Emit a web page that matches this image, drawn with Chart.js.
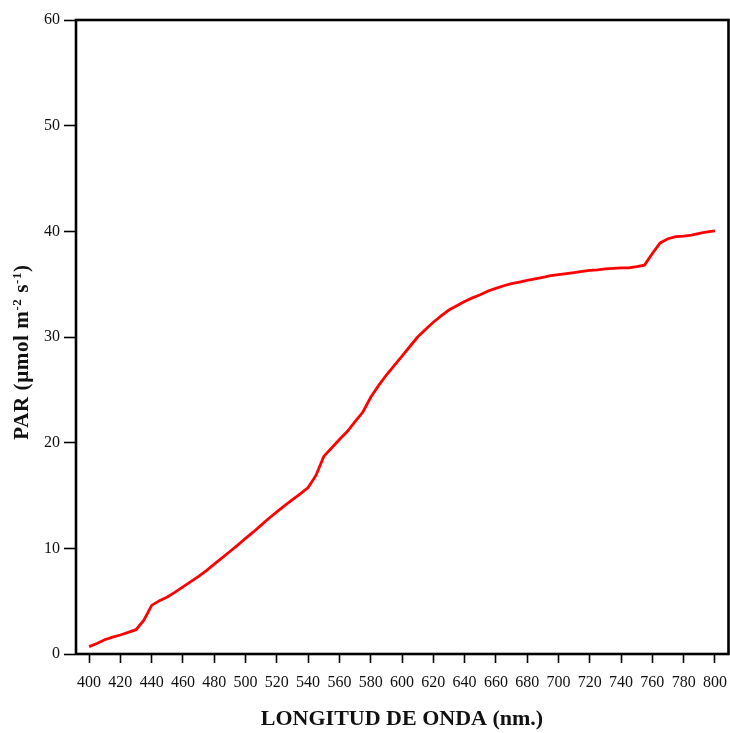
<!DOCTYPE html>
<html>
<head>
<meta charset="utf-8">
<script src="https://cdn.jsdelivr.net/npm/chart.js@4"></script>
<style>
html,body{margin:0;padding:0;background:#fff;}
#wrap{width:730px;height:733px;position:relative;}
</style>
</head>
<body>
<div id="wrap"><canvas id="c" width="730" height="733"></canvas></div>
<script>
const wavelengths = [400,405,410,415,420,425,430,435,440,445,450,455,460,465,470,475,480,485,490,495,
  500,505,510,515,520,525,530,535,540,545,550,555,560,565,570,575,580,585,590,595,
  600,605,610,615,620,625,630,635,640,645,650,655,660,665,670,675,680,685,690,695,
  700,705,710,715,720,725,730,735,740,745,750,755,760,765,770,775,780,785,790,795,800];
const parValues = [0.7,1.0,1.35,1.6,1.8,2.05,2.3,3.2,4.6,5.05,5.4,5.85,6.35,6.85,7.35,7.9,8.5,9.1,9.7,10.3,
  10.95,11.55,12.2,12.85,13.45,14.05,14.6,15.15,15.75,16.9,18.7,19.5,20.3,21.05,22.0,22.9,24.3,25.4,26.4,27.3,
  28.2,29.1,30.0,30.7,31.4,32.0,32.55,32.95,33.35,33.7,34.0,34.35,34.6,34.85,35.05,35.2,35.35,35.5,35.65,35.8,
  35.9,36.0,36.1,36.2,36.3,36.35,36.45,36.5,36.55,36.55,36.65,36.8,37.9,38.9,39.3,39.5,39.55,39.65,39.8,39.95,40.05];
const xTickValues = [400,420,440,460,480,500,520,540,560,580,600,620,640,660,680,700,720,740,760,780,800];
const yTickValues = [0,10,20,30,40,50,60];
const xTitle = 'LONGITUD DE ONDA (nm.)';
// y title pieces: [text, isSuperscript]
const yTitleParts = [['PAR (\u00B5mol m',false],['-2',true],[' s',false],['-1',true],[')',false]];

const frame = {
  id:'frame',
  afterDraw(chart){
    const a = chart.chartArea, ctx = chart.ctx;
    ctx.save();
    ctx.strokeStyle = '#000';
    ctx.lineWidth = 2.6;
    ctx.strokeRect(a.left + 1, a.top, a.right - a.left - 1.5, a.bottom - a.top);
    // y axis title with true superscripts
    const mainFont = 'bold 21px "Liberation Serif", serif';
    const supFont = 'bold 13px "Liberation Serif", serif';
    if ('letterSpacing' in ctx) ctx.letterSpacing = '0.6px';
    let total = 0;
    const widths = yTitleParts.map(([t,sup])=>{
      ctx.font = sup ? supFont : mainFont;
      const w = ctx.measureText(t).width; total += w; return w;
    });
    const cy = (a.top + a.bottom)/2 + 15;
    ctx.translate(28, cy);
    ctx.rotate(-Math.PI/2);
    ctx.fillStyle = '#111';
    ctx.textBaseline = 'alphabetic';
    ctx.textAlign = 'left';
    let x = -total/2;
    yTitleParts.forEach(([t,sup],i)=>{
      ctx.font = sup ? supFont : mainFont;
      ctx.fillText(t, x, sup ? -7 : 0);
      x += widths[i];
    });
    ctx.restore();
  }
};

new Chart(document.getElementById('c'), {
  type:'line',
  data:{
    datasets:[{
      data: wavelengths.map((w,i)=>({x:w, y:parValues[i]})),
      borderColor:'#ff0000',
      borderWidth:2.8,
      pointRadius:0,
      tension:0,
      fill:false
    }]
  },
  options:{
    responsive:false,
    animation:false,
    devicePixelRatio:1,
    layout:{padding:{top:20,right:1,left:0,bottom:0}},
    plugins:{legend:{display:false},tooltip:{enabled:false}},
    scales:{
      x:{
        type:'linear',
        min:391, max:809,
        afterBuildTicks(s){ s.ticks = xTickValues.map(v=>({value:v})); },
        afterFit(s){ s.height = 79; s.paddingLeft = 0; s.paddingRight = 0; },
        border:{display:false},
        grid:{drawOnChartArea:false, drawTicks:true, tickLength:9, tickWidth:1.6, tickColor:'#000'},
        ticks:{color:'#111', padding:10, maxRotation:0, autoSkip:false,
               font:{family:'"Liberation Serif", serif', size:16}},
        title:{display:true, text:xTitle, color:'#111',
               font:{family:'"Liberation Serif", serif', size:22, weight:'bold'},
               padding:{top:0,bottom:0}}
      },
      y:{
        min:0, max:60,
        afterBuildTicks(s){ s.ticks = yTickValues.map(v=>({value:v})); },
        afterFit(s){ s.width = 75; s.paddingTop = 0; s.paddingBottom = 0; },
        border:{display:false},
        grid:{drawOnChartArea:false, drawTicks:true, tickLength:11, tickWidth:1.6, tickColor:'#000'},
        ticks:{color:'#111', padding:4,
               font:{family:'"Liberation Serif", serif', size:16}},
        title:{display:false}
      }
    }
  },
  plugins:[frame]
});
</script>
</body>
</html>
